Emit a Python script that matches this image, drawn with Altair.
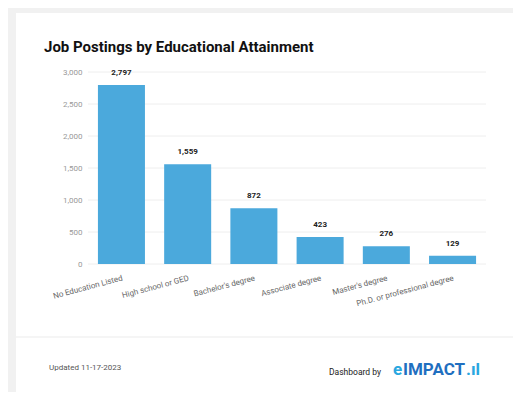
import altair as alt
import pandas as pd

categories = ["No Education Listed", "High school or GED", "Bachelor's degree",
              "Associate degree", "Master's degree", "Ph.D. or professional degree"]
values = [2797, 1559, 872, 423, 276, 129]
y_ticks = [0, 500, 1000, 1500, 2000, 2500, 3000]

df = pd.DataFrame({"cat": categories, "val": values})
grid_df = pd.DataFrame({"t": y_ticks})
one = pd.DataFrame({"a": [0]})
FONT = "Roboto"

x_axis = alt.Axis(labelAngle=-15, labelAlign="right", labelBaseline="top",
                  labelFontSize=8, labelColor="#666", labelFont=FONT,
                  labelPadding=10, domain=False, ticks=False, grid=False, zindex=1)
y_axis = alt.Axis(values=y_ticks, format=",.0f", labelFontSize=8,
                  labelColor="#999", labelFont=FONT, labelPadding=6,
                  domain=False, ticks=False, grid=False, zindex=1)
y_scale = alt.Scale(domain=[0, 3000])
x_scale = alt.Scale(paddingInner=0.29, paddingOuter=0.15)

card = alt.Chart(one).mark_rect(fill="white").encode(
    x=alt.value(-72), x2=alt.value(440), y=alt.value(-59), y2=alt.value(340))
divider = alt.Chart(one).mark_rule(color="#ececec", strokeWidth=1.2).encode(
    x=alt.value(-72), x2=alt.value(440), y=alt.value(265))
grid = alt.Chart(grid_df).mark_rule(color="#eeeeee", strokeWidth=1).encode(
    y=alt.Y("t:Q", scale=y_scale, axis=y_axis, title=None),
    x=alt.value(0), x2=alt.value(398))

bars = alt.Chart(df).mark_bar(color="#4ba9dc").encode(
    x=alt.X("cat:N", sort=categories, title=None, scale=x_scale, axis=x_axis),
    y=alt.Y("val:Q", title=None, scale=y_scale, axis=y_axis),
)
labels = alt.Chart(df).mark_text(dy=-8, baseline="bottom", fontSize=8,
                                 fontWeight="bold", color="#222", font=FONT).encode(
    x=alt.X("cat:N", sort=categories, title=None, scale=x_scale, axis=x_axis),
    y=alt.Y("val:Q", title=None, scale=y_scale, axis=y_axis),
    text=alt.Text("val:Q", format=","),
)

def txt(s, x, y, **kw):
    return alt.Chart(one).mark_text(text=s, align="left", baseline="middle",
                                    font=FONT, **kw).encode(x=alt.value(x), y=alt.value(y))

title = txt("Job Postings by Educational Attainment", -44, -25,
            fontSize=15, fontWeight="bold", color="#111")
updated = txt("Updated 11-17-2023", -39, 296, fontSize=8, color="#555")
dash = txt("Dashboard by", 241, 300, fontSize=8.5, color="#222")
logo_e = txt("e", 305, 298, fontSize=17, fontWeight="bold", color="#2aa7e0")
logo_main = txt("IMPACT", 315, 298, fontSize=17, fontWeight="bold", color="#1f6fc0")
logo_end = txt(".ıl", 378, 298, fontSize=17, fontWeight="bold", color="#2aa7e0")

chart = alt.layer(card, divider, grid, bars, labels, title, updated, dash,
                  logo_e, logo_main, logo_end).properties(
    width=398, height=192,
    autosize=alt.AutoSizeParams(type="none"),
    padding={"left": 80, "top": 64, "right": 27, "bottom": 128},
    background="#f1f1f1",
).configure_view(stroke=None)

chart.save("out.html", embed_options={"renderer": "svg", "actions": False})
